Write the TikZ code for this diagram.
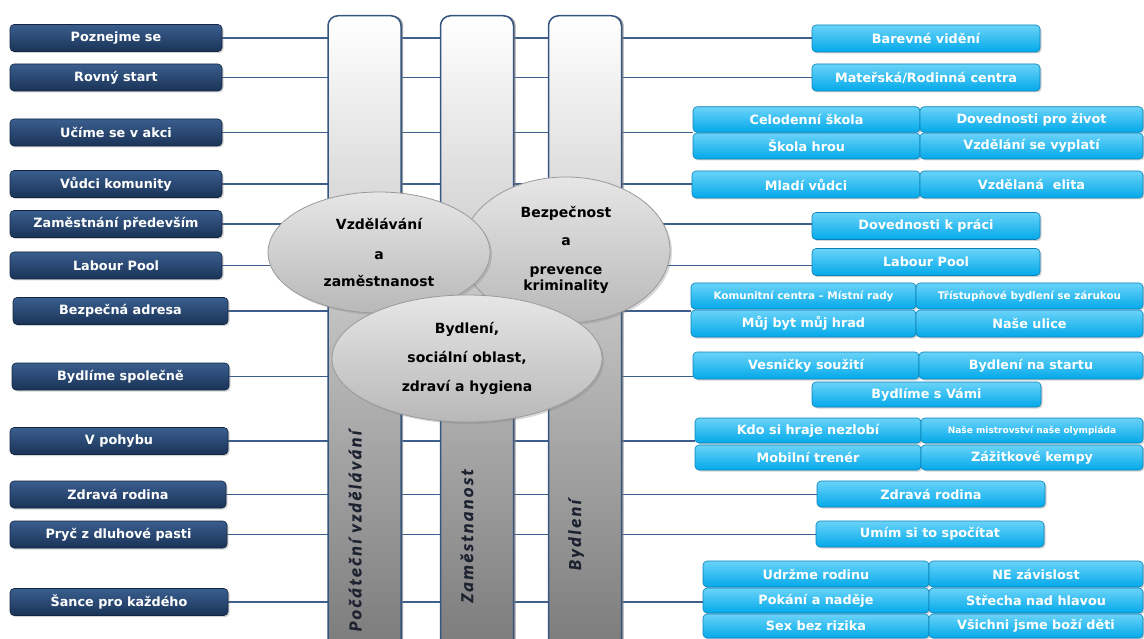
\documentclass[tikz,border=0pt]{standalone}
\usepackage{fontspec}
\setmainfont{DejaVu Sans}
\newfontfamily\pillarfont[LetterSpace=14, FakeBold=1.2]{Carlito}
\usetikzlibrary{shapes.geometric,shadows}
\definecolor{lineC}{HTML}{3E5F8C}
\definecolor{navyT}{HTML}{3A5E8E}
\definecolor{navyB}{HTML}{1A3357}
\definecolor{navyD}{HTML}{122642}
\definecolor{cyanT}{HTML}{6AD3F8}
\definecolor{cyanB}{HTML}{03A9EA}
\definecolor{cyanD}{HTML}{0A82B8}
\definecolor{pillM}{HTML}{C6C6C6}
\definecolor{pillB}{HTML}{767676}
\definecolor{pillD}{HTML}{34557F}
\definecolor{ellT}{HTML}{E6E6E6}
\definecolor{ellB}{HTML}{B8B8B8}
\definecolor{ellD}{HTML}{9A9A9A}
\definecolor{pillText}{HTML}{1C2230}
\pgfdeclarelayer{bg}
\pgfsetlayers{bg,main}
\begin{document}
\begin{tikzpicture}[x=1pt,y=-1pt,
  lbox/.style={rounded corners=4pt, top color=navyT, bottom color=navyB, draw=navyD, line width=0.6pt,
    text=white, font=\bfseries\fontsize{12.8}{14}\selectfont, inner sep=0pt, minimum height=27pt,
    drop shadow={shadow xshift=1.5pt, shadow yshift=-1.5pt, opacity=0.35}},
  rbox/.style={rounded corners=4pt, top color=cyanT, bottom color=cyanB, draw=cyanD, line width=0.6pt,
    text=white, font=\bfseries\fontsize{12.8}{14}\selectfont, inner sep=0pt, minimum height=26pt,
    drop shadow={shadow xshift=1.5pt, shadow yshift=-1.5pt, opacity=0.35}},
  conn/.style={draw=lineC, line width=1.4pt},
  pillar/.style={rounded corners=10pt, top color=white, middle color=pillM, bottom color=pillB,
    draw=pillD, line width=1.5pt, minimum width=73pt, minimum height=660pt, anchor=north, inner sep=0pt,
    drop shadow={shadow xshift=2.2pt, shadow yshift=0pt, opacity=0.75}},
  topic/.style={ellipse, top color=ellT, bottom color=ellB, draw=ellD, line width=0.8pt, inner sep=0pt,
    align=center, text=black, font=\bfseries\fontsize{14}{14}\selectfont,
    drop shadow={shadow xshift=2pt, shadow yshift=-2pt, opacity=0.3}},
  plabel/.style={rotate=90, text=pillText, inner sep=0pt,
    font=\pillarfont\bfseries\itshape\fontsize{18}{18}\selectfont}
]
\useasboundingbox (0,0) rectangle (1144,639);
\clip (0,0) rectangle (1144,639);

% pillars
\node[pillar] (P1) at (364.5,15) {};
\node[pillar] (P2) at (477,15) {};
\node[pillar] (P3) at (585,15) {};
\node[plabel] (T1) at (355,531) {Počáteční vzdělávání};
\node[plabel] (T2) at (467,536) {Zaměstnanost};
\node[plabel] (T3) at (576,535) {Bydlení};

% topic ellipses
\node[topic, minimum width=208pt, minimum height=146pt] (E2) at (566,250)
  {Bezpečnost\\[14pt]a\\[15pt]prevence\\[2pt]kriminality};
\node[topic, minimum width=222pt, minimum height=121pt] (E1) at (379,252.5)
  {Vzdělávání\\[16pt]a\\[13pt]zaměstnanost};
\node[topic, minimum width=270pt, minimum height=127pt] (E3) at (467,358.5)
  {Bydlení,\\[14pt]sociální oblast,\\[15pt]zdraví a hygiena};

% left boxes
\node[lbox, minimum width=212pt] (L1) at (116,38) {Poznejme se};
\node[lbox, minimum width=212pt] (L2) at (116,77.5) {Rovný start};
\node[lbox, minimum width=212pt] (L3) at (116,132.5) {Učíme se v akci};
\node[lbox, minimum width=212pt] (L4) at (116,184) {Vůdci komunity};
\node[lbox, minimum width=212pt] (L5) at (116,224) {Zaměstnání především};
\node[lbox, minimum width=212pt] (L6) at (116,265.5) {Labour Pool};
\node[lbox, minimum width=215pt] (L7) at (120.5,311) {Bezpečná adresa};
\node[lbox, minimum width=217pt] (L8) at (120.5,376.5) {Bydlíme společně};
\node[lbox, minimum width=218pt] (L9) at (119,441) {V pohybu};
\node[lbox, minimum width=216pt] (L10) at (118,494.5) {Zdravá rodina};
\node[lbox, minimum width=217pt] (L11) at (118.5,534.5) {Pryč z dluhové pasti};
\node[lbox, minimum width=218pt] (L12) at (119,602) {Šance pro každého};

% right boxes
\node[rbox, minimum width=228pt, minimum height=27pt] (R1) at (926,38.5) {Barevné vidění};
\node[rbox, minimum width=228pt, minimum height=27pt] (R2) at (926,77.5) {Mateřská/Rodinná centra};
\node[rbox, minimum width=227pt, minimum height=25.5pt] (R3a) at (806.5,119.5) {Celodenní škola};
\node[rbox, minimum width=223pt, minimum height=25.5pt] (R3b) at (1031.5,119.5) {Dovednosti pro život};
\node[rbox, minimum width=227pt] (R3c) at (806.5,146) {Škola hrou};
\node[rbox, minimum width=223pt] (R3d) at (1031.5,146) {Vzdělání se vyplatí};
\node[rbox, minimum width=228pt, minimum height=27pt] (R4a) at (806,184.5) {Mladí vůdci};
\node[rbox, minimum width=223pt, minimum height=27pt] (R4b) at (1031.5,184.5) {Vzdělaná\ \ elita};
\node[rbox, minimum width=228pt, minimum height=27pt] (R5) at (926,226) {Dovednosti k práci};
\node[rbox, minimum width=228pt, minimum height=27pt] (R6) at (926,262) {Labour Pool};
\node[rbox, minimum width=225pt, font=\bfseries\fontsize{10.4}{12}\selectfont] (R7a) at (803.5,296) {Komunitní centra – Místní rady};
\node[rbox, minimum width=227pt, font=\bfseries\fontsize{10.4}{12}\selectfont] (R7b) at (1029.5,296) {Třístupňové bydlení se zárukou};
\node[rbox, minimum width=225pt, minimum height=27pt] (R7c) at (803.5,323.5) {Můj byt můj hrad};
\node[rbox, minimum width=227pt, minimum height=27pt] (R7d) at (1029.5,323.5) {Naše ulice};
\node[rbox, minimum width=226pt, minimum height=27pt] (R8a) at (806,365.5) {Vesničky soužití};
\node[rbox, minimum width=224pt, minimum height=27pt] (R8b) at (1031,365.5) {Bydlení na startu};
\node[rbox, minimum width=229pt, minimum height=25pt] (R8c) at (926.5,394.5) {Bydlíme s Vámi};
\node[rbox, minimum width=226pt, minimum height=25pt] (R9a) at (808,430.5) {Kdo si hraje nezlobí};
\node[rbox, minimum width=222pt, minimum height=25pt, font=\bfseries\fontsize{9}{11}\selectfont] (R9b) at (1032,430.5) {Naše mistrovství naše olympiáda};
\node[rbox, minimum width=226pt, minimum height=25pt] (R9c) at (808,457.5) {Mobilní trenér};
\node[rbox, minimum width=222pt, minimum height=25pt] (R9d) at (1032,457.5) {Zážitkové kempy};
\node[rbox, minimum width=228pt] (R10) at (931,494) {Zdravá rodina};
\node[rbox, minimum width=228pt] (R11) at (930,534) {Umím si to spočítat};
\node[rbox, minimum width=226pt] (R12a) at (816,574) {Udržme rodinu};
\node[rbox, minimum width=214pt] (R12b) at (1036,574) {NE závislost};
\node[rbox, minimum width=226pt, minimum height=25pt] (R12c) at (816,600.5) {Pokání a naděje};
\node[rbox, minimum width=214pt, minimum height=25pt] (R12d) at (1036,600.5) {Střecha nad hlavou};
\node[rbox, minimum width=226pt, minimum height=24pt] (R12e) at (816,626) {Sex bez rizika};
\node[rbox, minimum width=214pt, minimum height=24pt] (R12f) at (1036,626) {Všichni jsme boží děti};

% connectors (behind everything)
\begin{pgfonlayer}{bg}
\draw[conn] (L1.east) -- (L1.east -| R1.west);
\draw[conn] (L2.east) -- (L2.east -| R2.west);
\draw[conn] (L3.east) -- (L3.east -| R3a.west);
\draw[conn] (L4.east) -- (L4.east -| R4a.west);
\draw[conn] (L5.east) -- (L5.east -| R5.west);
\draw[conn] (L6.east) -- (L6.east -| R6.west);
\draw[conn] (L7.east) -- (L7.east -| R7a.west);
\draw[conn] (L8.east) -- (L8.east -| R8a.west);
\draw[conn] (L9.east) -- (L9.east -| R9a.west);
\draw[conn] (L10.east) -- (L10.east -| R10.west);
\draw[conn] (L11.east) -- (L11.east -| R11.west);
\draw[conn] (L12.east) -- (L12.east -| R12a.west);
\end{pgfonlayer}
\end{tikzpicture}
\end{document}
